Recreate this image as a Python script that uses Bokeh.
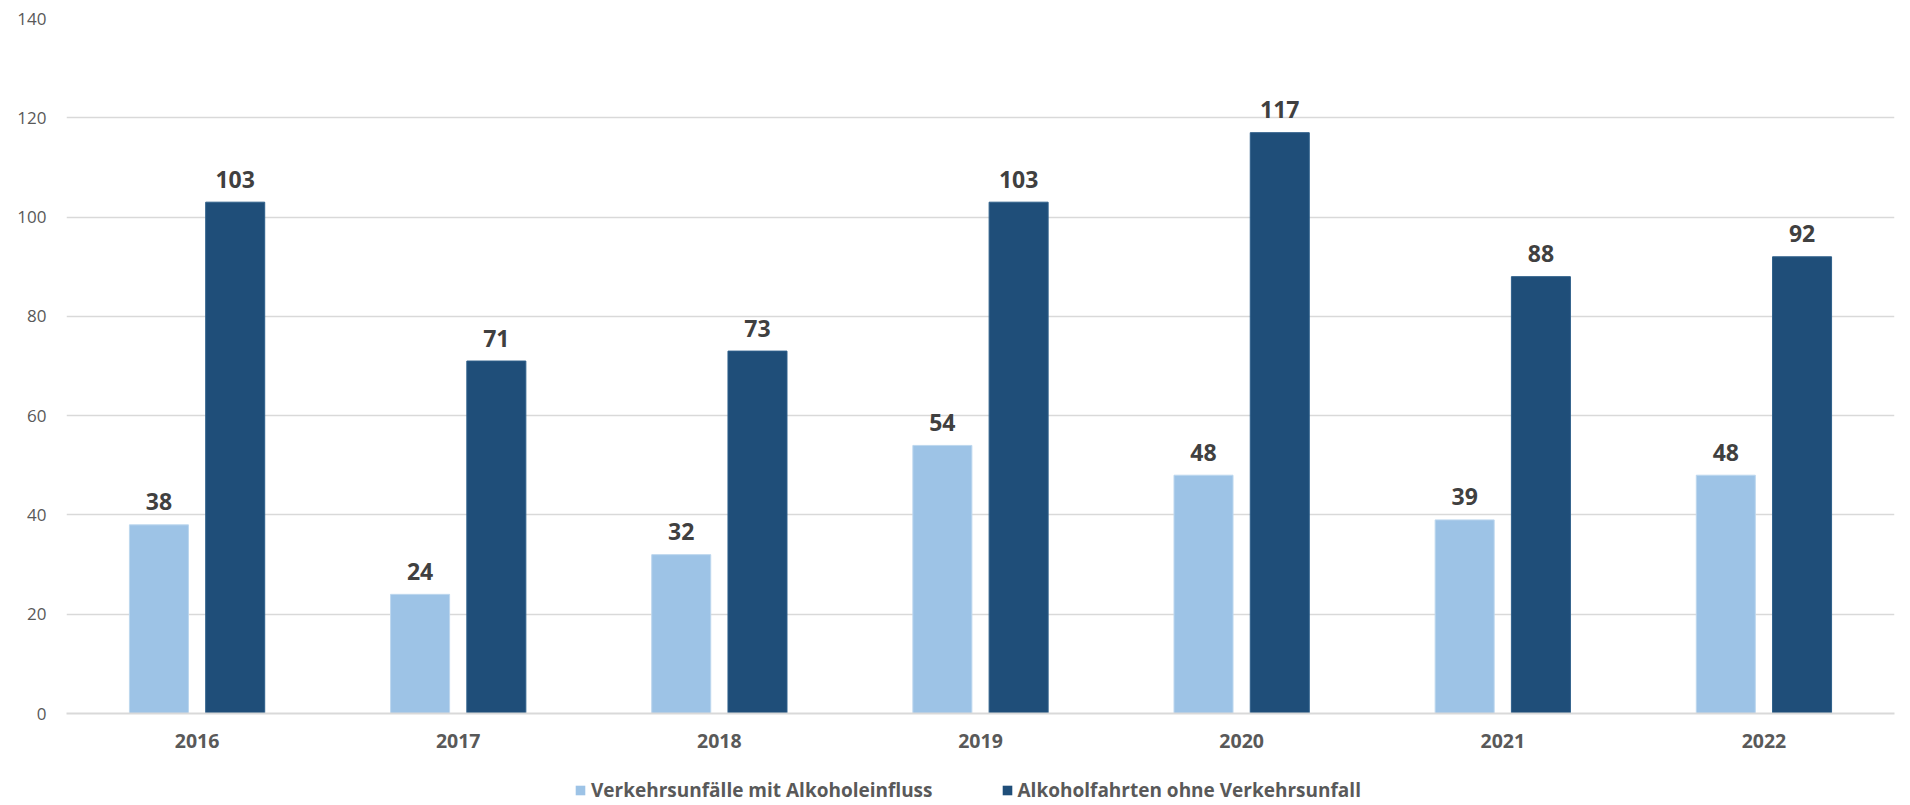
from bokeh.plotting import figure
from bokeh.layouts import column
from bokeh.models import ColumnDataSource, FactorRange, Range1d, LabelSet, Legend, LegendItem, FixedTicker
from bokeh.core.properties import value
from bokeh.transform import dodge
from bokeh.embed import file_html
from bokeh.resources import INLINE

years = ["2016", "2017", "2018", "2019", "2020", "2021", "2022"]
unfaelle = [38, 24, 32, 54, 48, 39, 48]
fahrten = [103, 71, 73, 103, 117, 88, 92]
y_ticks = [0, 20, 40, 60, 80, 100, 120, 140]
series_names = ["Verkehrsunfälle mit Alkoholeinfluss", "Alkoholfahrten ohne Verkehrsunfall"]

FONT = "Open Sans"
LIGHT = "#9DC3E6"
DARK = "#1F4E79"
W = 1904

src = ColumnDataSource(dict(
    year=years, a=unfaelle, b=fahrten,
    a_txt=[str(v) for v in unfaelle], b_txt=[str(v) for v in fahrten],
))

p = figure(
    x_range=FactorRange(*years), y_range=Range1d(0, 140),
    width=W, height=760, output_backend="svg", toolbar_location=None,
    min_border_left=66, min_border_right=W - 1894, min_border_top=18, min_border_bottom=47,
)
p.outline_line_color = None

off = 0.146
bw = 0.226
p.vbar(x=dodge("year", -off, range=p.x_range), top="a", width=bw, source=src,
       fill_color=LIGHT, line_color="#BDD7EE", line_width=1)
p.vbar(x=dodge("year", off, range=p.x_range), top="b", width=bw, source=src,
       fill_color=DARK, line_color="#2E5F8A", line_width=1)

for col, txt, dx in (("a", "a_txt", -off), ("b", "b_txt", off)):
    lbl = LabelSet(x=dodge("year", dx, range=p.x_range), y=col, text=txt, source=src,
                   text_align="center", text_baseline="middle", y_offset=23,
                   text_font=value(FONT), text_font_style="bold", text_font_size="23px",
                   text_color="#404040")
    p.add_layout(lbl)

p.yaxis.ticker = FixedTicker(ticks=y_ticks)
p.yaxis.axis_line_color = None
p.yaxis.major_tick_line_color = None
p.yaxis.minor_tick_line_color = None
p.yaxis.major_tick_out = 0
p.yaxis.major_tick_in = 0
p.yaxis.major_label_standoff = 20
p.yaxis.major_label_text_align = "right"
p.yaxis.major_label_text_font = FONT
p.yaxis.major_label_text_font_size = "17px"
p.yaxis.major_label_text_color = "#595959"

p.xaxis.axis_line_color = "#D9D9D9"
p.xaxis.axis_line_width = 2
p.xaxis.major_tick_line_color = None
p.xaxis.major_tick_out = 0
p.xaxis.major_tick_in = 0
p.xaxis.major_label_standoff = 20
p.xaxis.major_label_text_font = FONT
p.xaxis.major_label_text_font_style = "bold"
p.xaxis.major_label_text_font_size = "19.5px"
p.xaxis.major_label_text_color = "#595959"

p.xgrid.grid_line_color = None
p.ygrid.grid_line_color = "#D9D9D9"
p.ygrid.grid_line_width = 1.5

# legend strip below the chart
lf = figure(width=W, height=45, output_backend="svg", toolbar_location=None,
            x_range=Range1d(0, 1), y_range=Range1d(0, 1),
            x_axis_location=None, y_axis_location=None,
            min_border=0, outline_line_color=None)
lf.grid.visible = False
hidden = ColumnDataSource(dict(x=[-50.0], top=[0.0]))
d1 = lf.vbar(x="x", top="top", bottom=0, width=0.1, source=hidden, fill_color=LIGHT, line_color=None)
d2 = lf.vbar(x="x", top="top", bottom=0, width=0.1, source=hidden, fill_color=DARK, line_color=None)
legend = Legend(
    items=[LegendItem(label=series_names[0], renderers=[d1]),
           LegendItem(label=series_names[1], renderers=[d2])],
    location=(508, 2), orientation="horizontal",
    glyph_width=12, glyph_height=12, label_standoff=5, spacing=68,
    padding=0, margin=0, border_line_color=None, background_fill_alpha=0,
    label_text_font=FONT, label_text_font_style="bold", label_text_font_size="19px",
    label_text_color="#595959",
)
lf.add_layout(legend, "center")

open("out.html", "w").write(file_html(column(p, lf, spacing=0), INLINE))
